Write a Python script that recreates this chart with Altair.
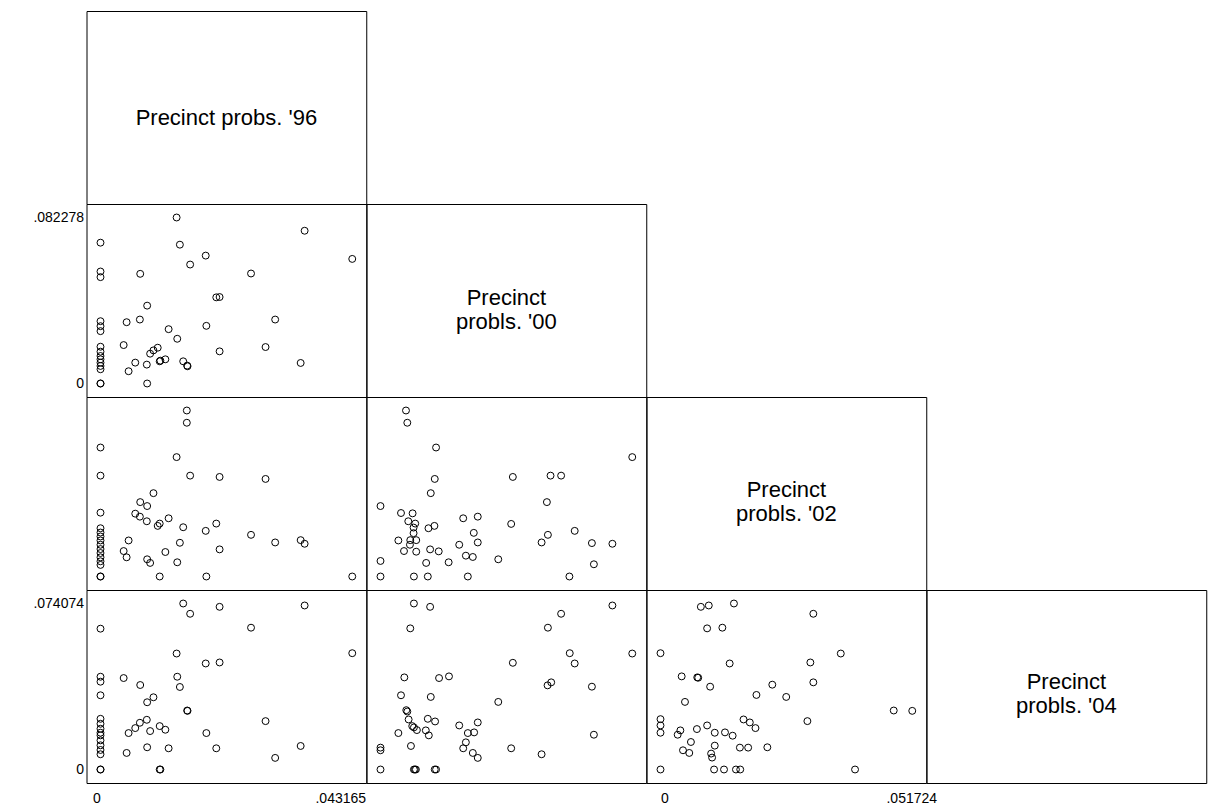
import altair as alt
import pandas as pd

FONT = "Liberation Sans"
W, H = 279.75, 193

# variable maxima (axis labels)
p96_max = 0.043165
p00_max = 0.082278
p02_max = 0.051724
p04_max = 0.074074

diag_labels = ["Precinct probs. '96", ["Precinct", "probls. '00"],
               ["Precinct", "probls. '02"], ["Precinct", "probls. '04"]]

# ---- panel: x = p96, y = p00
a_p96 = [0] * 15 + [
    0.01305, 0.03500, 0.01361, 0.01804, 0.043165, 0.01537, 0.00681, 0.02581, 0.01985, 0.02042,
    0.00800, 0.00448, 0.00675, 0.02995, 0.01168, 0.01815, 0.01316, 0.00397, 0.00851, 0.00908,
    0.00981, 0.02042, 0.02830, 0.01015, 0.01027, 0.01112, 0.00596, 0.00794, 0.00482, 0.01418,
    0.01486, 0.01492, 0.03432, 0.00800]
a_p00 = [
    0.06980, 0.05551, 0.05272, 0.03088, 0.02841, 0.02595, 0.01823, 0.01577, 0.01363, 0.01199,
    0.01035, 0.00870, 0.00706, 0, 0,
    0.082278, 0.07571, 0.06881, 0.06339, 0.06175, 0.05896, 0.05436, 0.05452, 0.04270, 0.04286,
    0.03859, 0.03038, 0.03170, 0.03170, 0.02693, 0.02858, 0.02217, 0.01905, 0.01478, 0.01642,
    0.01774, 0.01593, 0.01807, 0.01100, 0.01133, 0.01199, 0.01035, 0.00936, 0.00608, 0.01100,
    0.00887, 0.00854, 0.01018, 0]

# ---- panel: x = p96, y = p02
b_p96 = [0] * 15 + [
    0.01480, 0.01480, 0.01305, 0.01537, 0.02042, 0.02830, 0.00908, 0.00681, 0.00800, 0.00596,
    0.00675, 0.00794, 0.01168, 0.01015, 0.00981, 0.01418, 0.01985, 0.01804, 0.02581, 0.00482,
    0.01361, 0.02995, 0.03432, 0.03500, 0.00397, 0.00448, 0.01112, 0.02042, 0.00800, 0.00851,
    0.01316, 0.01015, 0.01815, 0.043165]
b_p02 = [
    0.04019, 0.03143, 0.01989, 0.01504, 0.01370, 0.01247, 0.01123, 0.00989, 0.00855, 0.00732,
    0.00598, 0.00474, 0.00361, 0, 0,
    0.051724, 0.04791, 0.03720, 0.03143, 0.03102, 0.03040, 0.02597, 0.02318, 0.02195, 0.01958,
    0.01865, 0.01721, 0.01814, 0.01649, 0.01577, 0.01535, 0.01649, 0.01422, 0.01298, 0.01123,
    0.01051, 0.01061, 0.01133, 0.01020, 0.00793, 0.00598, 0.00763, 0.00845, 0.00536, 0.00423,
    0.00443, 0, 0, 0]

# ---- panel: x = p00, y = p02
c_p00 = [
    0.00833, 0.00876, 0.01816, 0.082278, 0.01773, 0.04325, 0.05557, 0.05903, 0.01643, 0.05438,
    0, 0.00670, 0.01049, 0.00908, 0.01135, 0.01081, 0.01762, 0.01568, 0.02703, 0.03179,
    0.04271, 0.01081, 0.03049, 0.05471, 0.06347, 0.00584, 0.00973, 0.01168, 0.00962, 0.00768,
    0.01168, 0.01622, 0.01903, 0.02573, 0.03179, 0.05265, 0.06909, 0.07579, 0, 0.01492,
    0.02227, 0.02790, 0.03017, 0.03849, 0.06974, 0, 0.01092, 0.01546, 0.02854, 0.06174]
c_p02 = [
    0.051724, 0.04791, 0.04019, 0.03720, 0.03040, 0.03102, 0.03143, 0.03143, 0.02597, 0.02318,
    0.02195, 0.01978, 0.01968, 0.01721, 0.01649, 0.01525, 0.01577, 0.01504, 0.01814, 0.01865,
    0.01638, 0.01350, 0.01360, 0.01298, 0.01422, 0.01123, 0.01133, 0.01133, 0.00989, 0.00793,
    0.00773, 0.00845, 0.00783, 0.00989, 0.01061, 0.01061, 0.01041, 0.01020, 0.00484, 0.00423,
    0.00443, 0.00649, 0.00608, 0.00536, 0.00381, 0, 0, 0, 0, 0]

# ---- panel: x = p96, y = p04
d_p96 = [0] * 15 + [
    0.01418, 0.02042, 0.03500, 0.01537, 0.02581, 0.01305, 0.043165, 0.01804, 0.02042, 0.00397,
    0.01316, 0.00681, 0.01361, 0.00908, 0.00800, 0.01486, 0.01492, 0.00794, 0.00675, 0.00596,
    0.00482, 0.00851, 0.01015, 0.01112, 0.01815, 0.02830, 0.00800, 0.01168, 0.01985, 0.00448,
    0.03432, 0.02995, 0.01015, 0.01027]
d_p04 = [
    0.06284, 0.04140, 0.03918, 0.03312, 0.02262, 0.02040, 0.01819, 0.01641, 0.01523, 0.01301,
    0.01079, 0.00872, 0.00680, 0, 0,
    0.074074, 0.07259, 0.07319, 0.06949, 0.06328, 0.05175, 0.05190, 0.04731, 0.04776, 0.04081,
    0.04140, 0.03770, 0.03682, 0.03223, 0.03001, 0.02632, 0.02617, 0.02218, 0.02085, 0.01848,
    0.01626, 0.01715, 0.01937, 0.01774, 0.01626, 0.02159, 0.00991, 0.00946, 0.00946, 0.00739,
    0.01050, 0.00518, 0, 0]

# ---- panel: x = p00, y = p04
e_p00 = [
    0.01092, 0.01622, 0.07579, 0.05903, 0.00973, 0.05471, 0.06185, 0.082278, 0.04325, 0.06347,
    0.00779, 0.01914, 0.02238, 0.05460, 0.05579, 0.06909, 0.00670, 0.01643, 0.03849, 0.00843,
    0.00876, 0.01546, 0.01784, 0.00919, 0.01038, 0.01092, 0.01189, 0.01481, 0.01579, 0.00584,
    0.02573, 0.03179, 0.02854, 0.03060, 0.06974, 0.02790, 0.02703, 0.03017, 0.03179, 0.04271,
    0.05265, 0.00995, 0, 0, 0, 0.01092, 0.01124, 0.01157, 0.01773, 0.01816]
e_p04 = [
    0.074074, 0.07259, 0.07319, 0.06949, 0.06298, 0.06328, 0.05190, 0.05175, 0.04761, 0.04731,
    0.04110, 0.04081, 0.04155, 0.03755, 0.03889, 0.03696, 0.03312, 0.03238, 0.03016, 0.02647,
    0.02587, 0.02262, 0.02144, 0.02233, 0.01937, 0.01878, 0.01759, 0.01745, 0.01523, 0.01626,
    0.01966, 0.02100, 0.01626, 0.01656, 0.01552, 0.01212, 0.00946, 0.00739, 0.00518, 0.00946,
    0.00680, 0.01050, 0.00976, 0.00858, 0, 0, 0, 0, 0, 0]

# ---- panel: x = p02, y = p04
f_p02 = [
    0.00829, 0.00992, 0.01509, 0.03140, 0.00958, 0.01271, 0, 0.03704, 0.01421, 0.03079,
    0.00435, 0.00755, 0.00775, 0.01020, 0.03140, 0.02297, 0.01971, 0.02583, 0.00503, 0.04792,
    0.051724, 0, 0, 0, 0.00408, 0.00353, 0.00748, 0.00958, 0.01115, 0.01325,
    0.01482, 0.01706, 0.01835, 0.01951, 0.03018, 0.00625, 0.00462, 0.00591, 0.01115, 0.01040,
    0.01060, 0.01631, 0.01801, 0.02195, 0, 0.01101, 0.01305, 0.01550, 0.01638, 0.03997]
f_p04 = [
    0.07259, 0.07319, 0.074074, 0.06949, 0.06298, 0.06328, 0.05190, 0.05175, 0.04731, 0.04776,
    0.04155, 0.04110, 0.04095, 0.03696, 0.03889, 0.03785, 0.03327, 0.03238, 0.03016, 0.02632,
    0.02617, 0.02247, 0.01966, 0.01641, 0.01745, 0.01552, 0.01804, 0.01966, 0.01641, 0.01656,
    0.01508, 0.02233, 0.02100, 0.01848, 0.02159, 0.01227, 0.00858, 0.00739, 0.01065, 0.00710,
    0.00532, 0.00976, 0.00976, 0.00991, 0, 0, 0, 0, 0, 0]

LABEL_EXPR = "datum.value == 0 ? '0' : slice(format(datum.value, '.6f'), 1)"


def make_axis(vmax, orient, zero_shift=0, max_shift=0):
    common = dict(values=[0, vmax], labelExpr=LABEL_EXPR, grid=False, domain=False,
                  ticks=False, title=None, labelFont=FONT, labelFontSize=14,
                  labelColor="black", labelOverlap=False, labelFlush=False, orient=orient)
    if orient == "left":
        return alt.Axis(labelPadding=3, **common)
    return alt.Axis(labelPadding=8,
                    labelOffset={"condition": {"test": "datum.value == 0", "value": zero_shift},
                                 "value": max_shift},
                    **common)


def scatter(xs, ys, xmax, ymax, xaxis=False, yaxis=False, zero_shift=0, max_shift=0):
    df = pd.DataFrame({"x": xs, "y": ys})
    xa = make_axis(xmax, "bottom", zero_shift, max_shift) if xaxis else None
    ya = make_axis(ymax, "left") if yaxis else None
    return alt.Chart(df).mark_point(
        shape="circle", filled=False, size=48, color="black", strokeWidth=1, opacity=1
    ).encode(
        x=alt.X("x:Q", scale=alt.Scale(domain=[0, xmax], nice=False, zero=False, padding=14), axis=xa),
        y=alt.Y("y:Q", scale=alt.Scale(domain=[0, ymax], nice=False, zero=False, padding=13.5), axis=ya),
    ).properties(width=W, height=H)


def diag(label, ypos):
    return alt.Chart(pd.DataFrame({"t": [0]})).mark_text(
        font=FONT, fontSize=22, color="black", lineHeight=24, baseline="middle", align="center"
    ).encode(
        x=alt.value(W / 2), y=alt.value(ypos), text=alt.value(label)
    ).properties(width=W, height=H)


def empty():
    return alt.Chart(pd.DataFrame({"t": [0]})).mark_text(text=" ", opacity=0, baseline="middle").encode(
        x=alt.value(W / 2), y=alt.value(H / 2)
    ).properties(width=W, height=H, view=alt.ViewBackground(stroke="transparent"))


cells = [
    diag(diag_labels[0], 107), empty(), empty(), empty(),
    scatter(a_p96, a_p00, p96_max, p00_max, yaxis=True), diag(diag_labels[1], 94), empty(), empty(),
    scatter(b_p96, b_p02, p96_max, p02_max), scatter(c_p00, c_p02, p00_max, p02_max),
    diag(diag_labels[2], 93), empty(),
    scatter(d_p96, d_p04, p96_max, p04_max, xaxis=True, yaxis=True, zero_shift=-4, max_shift=-12),
    scatter(e_p00, e_p04, p00_max, p04_max),
    scatter(f_p02, f_p04, p02_max, p04_max, xaxis=True, zero_shift=4, max_shift=-1),
    diag(diag_labels[3], 92),
]

chart = alt.concat(*cells, columns=4, spacing=0, bounds="flush").properties(
    padding={"left": 23.5, "top": 2, "right": 0, "bottom": -2},
    background="white",
).configure_view(stroke="black", strokeWidth=1)

chart.save("out.html", embed_options={"renderer": "svg", "actions": False})
